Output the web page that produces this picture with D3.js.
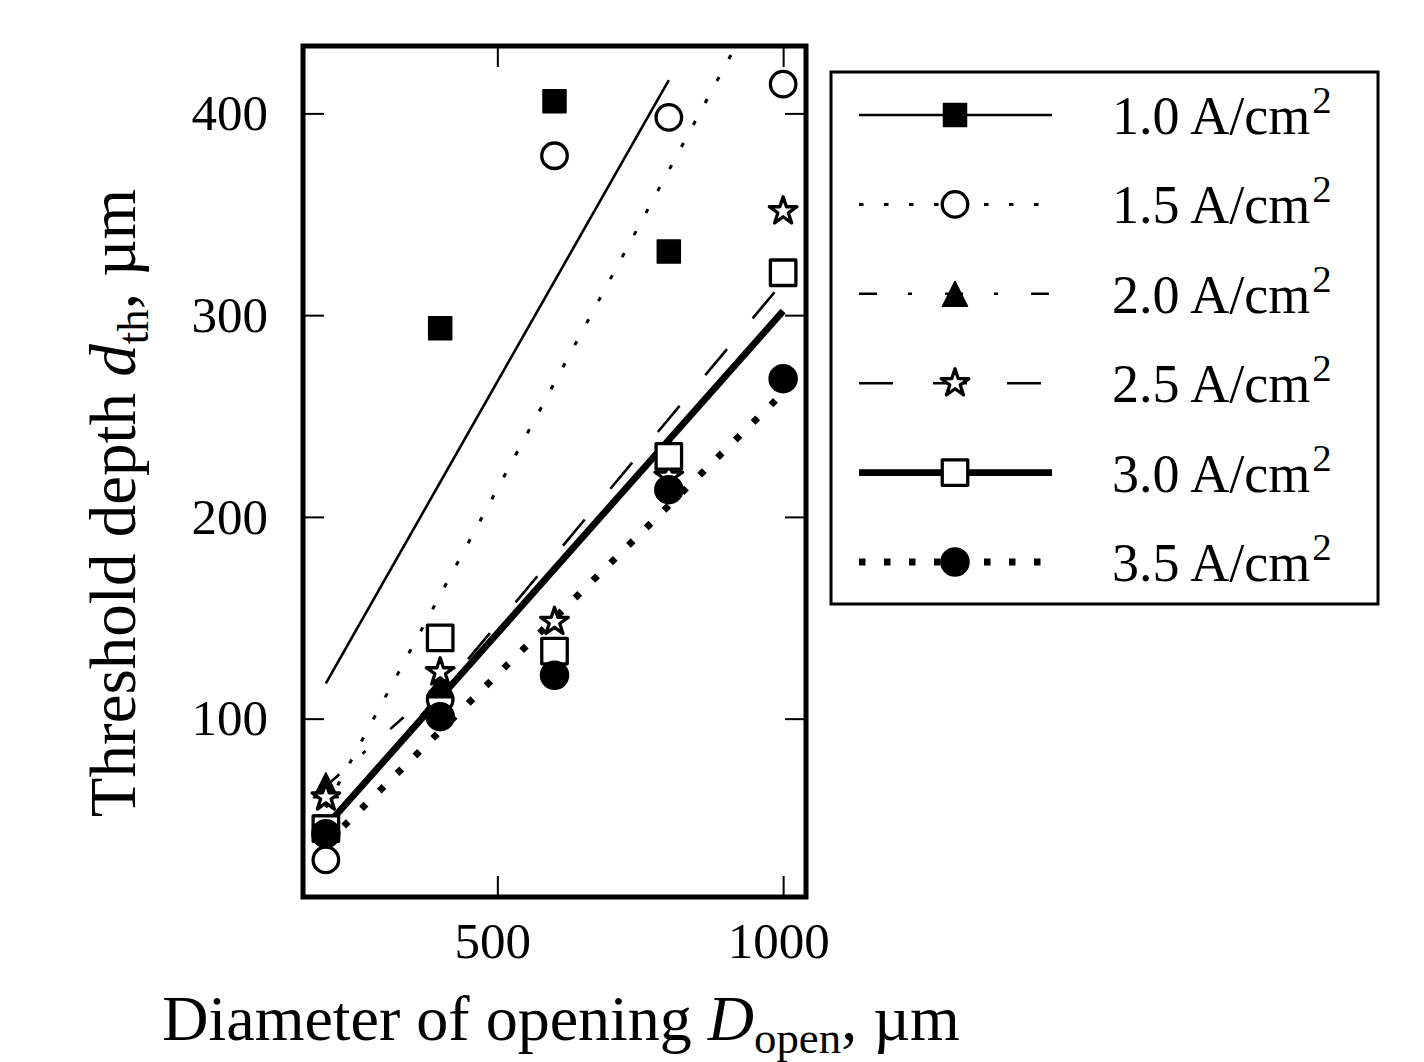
<!DOCTYPE html>
<html><head><meta charset="utf-8">
<script src="https://cdn.jsdelivr.net/npm/d3@7"></script>
<style>
body{margin:0;background:#fff}
text{font-family:"Liberation Serif","DejaVu Serif",serif;fill:#000}
</style>
</head><body>
<svg id="chart" width="1424" height="1062"></svg>
<script>
// ---------- data ----------
const openings   = [200, 400, 600, 800, 1000];
const seriesNames = ["1.0", "1.5", "2.0", "2.5", "3.0", "3.5"];
const depth10 = [46.5, 293.5, 406, 331.5, null];
const depth15 = [30, 109.5, 379, 398, 414.5];
const depth20 = [67, 116.5, null, null, null];
const depth25 = [61, 123, 148, 220, 351.5];
const depth30 = [45.5, 140, 133.5, 230, 321];
const depth35 = [43, 101, 121.5, 213.5, 268.5];
// linear-fit lines (end points)
const fitStartX = [200, 200, 200, 200, 200, 200];
const fitEndX   = [800, 1000, 400, 1000, 1000, 1000];
const fitStartY = [117.5, 56, 66.5, 45, 46.5, 38];
const fitEndY   = [416.5, 477, 116.8, 316.5, 302, 261.5];
const xTicks = [500, 1000];
const yTicks = [100, 200, 300, 400];

// ---------- styles ----------
const depths = [depth10, depth15, depth20, depth25, depth30, depth35];
const markerType = ["square", "circle", "triangle", "star", "square", "circle"];
const markerFilled = [true, false, true, false, false, true];
const lineWidth = [2.6, 3, 2.6, 2.6, 6.8, 6.8];
const lineDash = [null, "4.5 20.5", "18 31 4 33", "34 40", null, "6.5 18.5"];

const svg = d3.select("#chart");
const L = 303, R = 806, T = 46, B = 897;
const x = d3.scaleLinear().domain([160, 1040]).range([L, R]);
const y = d3.scaleLinear().domain([11.6, 433.4]).range([B, T]);

svg.append("defs").append("clipPath").attr("id", "plotclip")
  .append("rect").attr("x", L).attr("y", T).attr("width", R - L).attr("height", B - T);

function markerPath(type, filled) {
  const p = d3.path();
  if (type === "square") {
    const h = filled ? 11.5 : 12.75;
    p.rect(-h, -h, 2 * h, 2 * h);
  } else if (type === "circle") {
    const r = filled ? 14 : 12.75;
    p.arc(0, 0, r, 0, 2 * Math.PI); p.closePath();
  } else if (type === "triangle") {
    const h = 12.5;
    p.moveTo(0, -h); p.lineTo(-h, h); p.lineTo(h, h); p.closePath();
  } else if (type === "star") {
    const Ro = 14.5, Ri = 14.5 * 0.381966;
    for (let i = 0; i < 10; i++) {
      const a = -Math.PI / 2 + i * Math.PI / 5;
      const r = i % 2 === 0 ? Ro : Ri;
      const px = r * Math.cos(a), py = r * Math.sin(a);
      if (i === 0) p.moveTo(px, py); else p.lineTo(px, py);
    }
    p.closePath();
  }
  return p.toString();
}
function styleMarker(sel, i) {
  const f = markerFilled[i];
  sel.attr("d", markerPath(markerType[i], f))
    .attr("fill", f ? "#000" : "#fff")
    .attr("stroke", "#000")
    .attr("stroke-width", f ? 1.5 : 3.3)
    .attr("stroke-linejoin", "round");
}
function styleLine(sel, i) {
  sel.attr("fill", "none").attr("stroke", "#000")
    .attr("stroke-width", lineWidth[i])
    .attr("stroke-linecap", "butt");
  if (lineDash[i]) sel.attr("stroke-dasharray", lineDash[i]);
}

// ---------- fit lines ----------
const lineG = svg.append("g").attr("clip-path", "url(#plotclip)");
const lineGen = d3.line().x(d => x(d[0])).y(d => y(d[1]));
seriesNames.forEach((s, i) => {
  lineG.append("path")
    .datum([[fitStartX[i], fitStartY[i]], [fitEndX[i], fitEndY[i]]])
    .attr("d", lineGen)
    .call(styleLine, i);
});

// ---------- markers ----------
const markG = svg.append("g").attr("clip-path", "url(#plotclip)");
depths.forEach((arr, i) => {
  const pts = openings.map((o, k) => [o, arr[k]]).filter(d => d[1] != null);
  markG.selectAll(null).data(pts).enter().append("path")
    .attr("transform", d => `translate(${x(d[0])},${y(d[1])})`)
    .call(styleMarker, i);
});

// ---------- axes ----------
const fs = 51;
function styleAxis(g) {
  g.select(".domain").remove();
  g.selectAll(".tick line").attr("stroke", "#000").attr("stroke-width", 2);
  g.selectAll(".tick text").style("font-size", fs + "px").attr("fill", "#000");
}
svg.append("g").attr("transform", `translate(${L},0)`)
  .call(d3.axisLeft(y).tickValues(yTicks).tickSize(-21).tickPadding(35).tickFormat(d3.format("d")))
  .call(styleAxis);
svg.append("g").attr("transform", `translate(${R},0)`)
  .call(d3.axisRight(y).tickValues(yTicks).tickSize(-21).tickFormat(""))
  .call(styleAxis);
const xb = svg.append("g").attr("transform", `translate(0,${B})`)
  .call(d3.axisBottom(x).tickValues(xTicks).tickSize(-21).tickPadding(25).tickFormat(d3.format("d")))
  .call(styleAxis);
xb.selectAll(".tick text").attr("dx", -5);
svg.append("g").attr("transform", `translate(0,${T})`)
  .call(d3.axisTop(x).tickValues(xTicks).tickSize(-21).tickFormat(""))
  .call(styleAxis);

svg.append("rect").attr("x", L).attr("y", T).attr("width", R - L).attr("height", B - T)
  .attr("fill", "none").attr("stroke", "#000").attr("stroke-width", 5);

// ---------- axis labels ----------
const lfs = 64;
const xl = svg.append("text").attr("x", 561).attr("y", 1040)
  .attr("text-anchor", "middle").style("font-size", lfs + "px");
xl.append("tspan").text("Diameter of opening ");
xl.append("tspan").attr("font-style", "italic").text("D");
xl.append("tspan").attr("dy", 13).style("font-size", (lfs * 0.7) + "px").text("open");
xl.append("tspan").attr("dy", -13).text(", µm");

const yl = svg.append("text").attr("transform", "translate(135,503) rotate(-90)")
  .attr("text-anchor", "middle").style("font-size", (lfs + 1) + "px");
yl.append("tspan").text("Threshold depth ");
yl.append("tspan").attr("font-style", "italic").text("d");
yl.append("tspan").attr("dy", 13).style("font-size", (lfs * 0.7) + "px").text("th");
yl.append("tspan").attr("dy", -13).text(", µm");

// ---------- legend ----------
const lg = svg.append("g");
lg.append("rect").attr("x", 831).attr("y", 72).attr("width", 547).attr("height", 532)
  .attr("fill", "#fff").attr("stroke", "#000").attr("stroke-width", 3);
const lfs2 = 54;
seriesNames.forEach((s, i) => {
  const ry = 115 + i * 89.4;
  lg.append("path").attr("d", `M859,${ry}H1052`).call(styleLine, i);
  lg.append("path").attr("transform", `translate(955,${ry})`).call(styleMarker, i);
  const t = lg.append("text").attr("x", 1112).attr("y", ry + 19).style("font-size", lfs2 + "px");
  t.append("tspan").text(s + "\u2009A/cm");
  t.append("tspan").attr("dy", -21).attr("dx", 2).style("font-size", (lfs2 * 0.72) + "px").text("2");
});
</script>
</body></html>
